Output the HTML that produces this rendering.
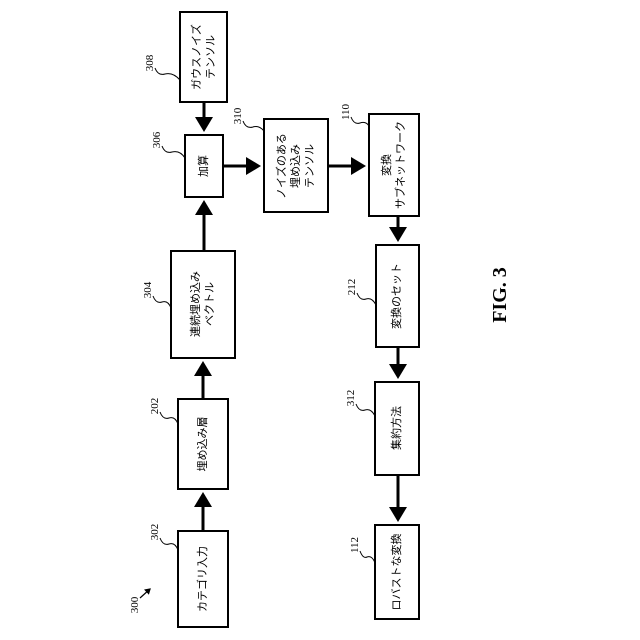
<!DOCTYPE html>
<html><head><meta charset="utf-8"><style>
html,body{margin:0;padding:0;background:#fff;}
svg{display:block;}
.t{font-family:"Liberation Sans","Noto Sans CJK JP",sans-serif;font-size:11px;fill:#000;}
.n{font-family:"Liberation Serif",serif;font-size:11px;fill:#000;}
.b{fill:#fff;stroke:#000;stroke-width:2;}
.a{stroke:#000;stroke-width:3;fill:none;}
.s{stroke:#000;stroke-width:1;fill:none;}
</style></head><body>
<svg width="640" height="640" viewBox="0 0 640 640" xmlns="http://www.w3.org/2000/svg">
<defs><marker id="m" markerWidth="6" markerHeight="6" refX="4" refY="3" orient="auto" markerUnits="strokeWidth"><path d="M0,0 L5,3 L0,6 z" fill="#000"/></marker></defs>
<!-- boxes -->
<rect class="b" x="180" y="12" width="47" height="90"/>
<rect class="b" x="185" y="135" width="38" height="62"/>
<rect class="b" x="264" y="119" width="64" height="93"/>
<rect class="b" x="369" y="114" width="50" height="102"/>
<rect class="b" x="171" y="251" width="64" height="107"/>
<rect class="b" x="376" y="245" width="43" height="102"/>
<rect class="b" x="178" y="399" width="50" height="90"/>
<rect class="b" x="375" y="382" width="44" height="93"/>
<rect class="b" x="178" y="531" width="50" height="96"/>
<rect class="b" x="375" y="525" width="44" height="94"/>
<!-- arrows -->
<line class="a" x1="204" y1="102" x2="204" y2="129" marker-end="url(#m)"/>
<line class="a" x1="204" y1="251" x2="204" y2="203" marker-end="url(#m)"/>
<line class="a" x1="223" y1="166" x2="258" y2="166" marker-end="url(#m)"/>
<line class="a" x1="328" y1="166" x2="363" y2="166" marker-end="url(#m)"/>
<line class="a" x1="398" y1="216" x2="398" y2="239" marker-end="url(#m)"/>
<line class="a" x1="398" y1="347" x2="398" y2="376" marker-end="url(#m)"/>
<line class="a" x1="398" y1="475" x2="398" y2="519" marker-end="url(#m)"/>
<line class="a" x1="203" y1="531" x2="203" y2="495" marker-end="url(#m)"/>
<line class="a" x1="203" y1="399" x2="203" y2="364" marker-end="url(#m)"/>
<!-- box text -->
<g class="t" text-anchor="middle" dominant-baseline="central">
<text transform="translate(197,57) rotate(-90)">ガウスノイズ</text>
<text transform="translate(211,57) rotate(-90)">テンソル</text>
<text transform="translate(204,166) rotate(-90)">加算</text>
<text transform="translate(282,166) rotate(-90)">ノイズのある</text>
<text transform="translate(296,166) rotate(-90)">埋め込み</text>
<text transform="translate(310,166) rotate(-90)">テンソル</text>
<text transform="translate(387,165) rotate(-90)">変換</text>
<text transform="translate(401,165) rotate(-90)">サブネットワーク</text>
<text transform="translate(196,304) rotate(-90)">連続埋め込み</text>
<text transform="translate(210,304) rotate(-90)">ベクトル</text>
<text transform="translate(397,296) rotate(-90)">変換のセット</text>
<text transform="translate(203,444) rotate(-90)">埋め込み層</text>
<text transform="translate(397,428) rotate(-90)">集約方法</text>
<text transform="translate(203,579) rotate(-90)">カテゴリ入力</text>
<text transform="translate(397,572) rotate(-90)">ロバストな変換</text>
</g>
<!-- ref labels -->
<g class="n" text-anchor="middle" dominant-baseline="central">
<text transform="translate(150,63) rotate(-90)">308</text>
<text transform="translate(157,140) rotate(-90)">306</text>
<text transform="translate(238,116) rotate(-90)">310</text>
<text transform="translate(346,112) rotate(-90)">110</text>
<text transform="translate(148,290) rotate(-90)">304</text>
<text transform="translate(352,287) rotate(-90)">212</text>
<text transform="translate(155,406) rotate(-90)">202</text>
<text transform="translate(351,398) rotate(-90)">312</text>
<text transform="translate(155,532) rotate(-90)">302</text>
<text transform="translate(355,545) rotate(-90)">112</text>
<text transform="translate(135,605) rotate(-90)">300</text>
</g>
<g class="s">
<path d="M155,68 q3,8 10,6 q8,-2 15,6"/>
<path d="M162,146 q3,8 10,6 q8,-2 13,6"/>
<path d="M243,121 q3,8 10,6 q6,-2 11,4"/>
<path d="M351,117 q3,8 9,6 q6,-2 9,3"/>
<path d="M153,296 q3,8 9,6 q6,-2 9,6"/>
<path d="M357,293 q3,8 9,6 q6,-2 10,6"/>
<path d="M160,412 q3,8 9,6 q6,-2 9,6"/>
<path d="M356,404 q3,8 9,6 q6,-2 10,6"/>
<path d="M160,538 q3,8 9,6 q6,-2 9,6"/>
<path d="M360,551 q3,8 7,6 q5,-2 8,6"/>
</g>
<line x1="140" y1="598" x2="150" y2="589" stroke="#000" stroke-width="1.2" marker-end="url(#m)"/>
<text transform="translate(500,295) rotate(-90)" text-anchor="middle" dominant-baseline="central" font-family="Liberation Serif,serif" font-size="20" font-weight="bold">FIG. 3</text>
</svg>
</body></html>
